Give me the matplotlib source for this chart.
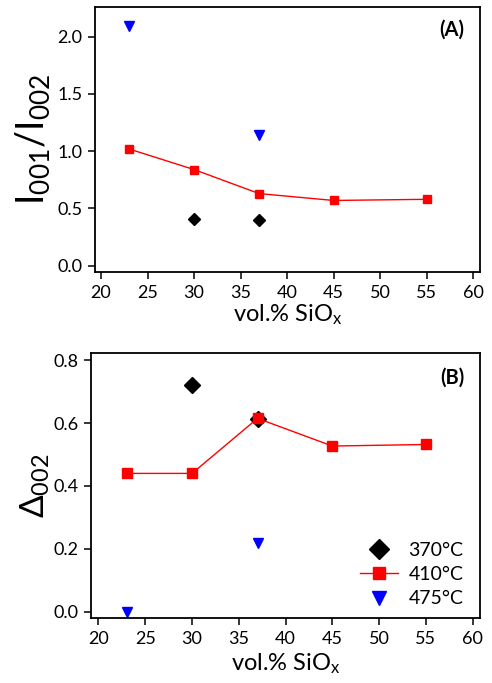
import matplotlib
matplotlib.use("Agg")
import matplotlib.pyplot as plt

plt.rcParams['font.family'] = ['Lato', 'DejaVu Sans']
plt.rcParams['mathtext.fontset'] = 'custom'
plt.rcParams['mathtext.rm'] = 'Lato'
plt.rcParams['mathtext.it'] = 'Lato'

# panel A: I001/I002
x_370_a = [30, 37]
y_370_a = [0.41, 0.40]
x_410_a = [23, 30, 37, 45, 55]
y_410_a = [1.02, 0.84, 0.63, 0.57, 0.58]
x_475_a = [23, 37]
y_475_a = [2.09, 1.14]

# panel B: Delta002
x_370_b = [30, 37]
y_370_b = [0.72, 0.613]
x_410_b = [23, 30, 37, 45, 55]
y_410_b = [0.44, 0.44, 0.615, 0.527, 0.532]
x_475_b = [23, 37]
y_475_b = [0.0, 0.22]

labels = ['370°C', '410°C', '475°C']
xticks = [20, 25, 30, 35, 40, 45, 50, 55, 60]

fig = plt.figure(figsize=(4.92, 6.83), dpi=100)
W, H = 492, 683
ax1 = fig.add_axes([95 / W, 1 - 272 / H, 385 / W, 265 / H])
ax2 = fig.add_axes([91 / W, 1 - 618 / H, 389 / W, 265 / H])


def style(ax, lpad):
    for s in ax.spines.values():
        s.set_linewidth(1.3)
    ax.tick_params(direction='out', length=5, width=1.1, labelsize=13,
                   top=False, right=False, pad=4)
    ax.set_xticks(xticks)
    ax.set_xlabel('vol.% SiO$_\\mathregular{x}$', fontsize=17, labelpad=lpad)


def draw(ax, d370, d410, d475, ms, dms):
    ax.plot(*d370, linestyle='none', marker='D', color='black', markersize=dms,
            label=labels[0])
    ax.plot(*d410, linestyle='-', linewidth=1, marker='s', color='#ff0000',
            markersize=ms, label=labels[1])
    ax.plot(*d475, linestyle='none', marker='v', color='#0000ff', markersize=ms + 0.6,
            label=labels[2])


draw(ax1, (x_370_a, y_370_a), (x_410_a, y_410_a), (x_475_a, y_475_a), 6.2, 6.6)
style(ax1, 1.5)
ax1.set_xlim(19.35, 60.75)
ax1.set_ylim(-0.055, 2.26)
ax1.set_yticks([0.0, 0.5, 1.0, 1.5, 2.0])
ax1.set_yticklabels(['0.0', '0.5', '1.0', '1.5', '2.0'])
ax1.set_ylabel('$\\mathregular{I_{001}/I_{002}}$', fontsize=27, labelpad=4)
ax1.text(0.96, 0.913, '(A)', transform=ax1.transAxes, ha='right', va='center',
         fontsize=14.5, fontweight='bold')

draw(ax2, (x_370_b, y_370_b), (x_410_b, y_410_b), (x_475_b, y_475_b), 6.8, 7.8)
style(ax2, 3.5)
ax2.set_xlim(19.2, 60.78)
ax2.set_ylim(-0.02, 0.823)
ax2.set_yticks([0.0, 0.2, 0.4, 0.6, 0.8])
ax2.set_yticklabels(['0.0', '0.2', '0.4', '0.6', '0.8'])
ax2.set_ylabel('$\\mathregular{\\Delta_{002}}$', fontsize=24, labelpad=1)
ax2.text(0.96, 0.906, '(B)', transform=ax2.transAxes, ha='right', va='center',
         fontsize=14.5, fontweight='bold')
ax2.legend(loc='lower right', bbox_to_anchor=(0.985, 0.0), frameon=False,
           fontsize=14, markerscale=1.3, handlelength=1.95, handletextpad=0.55,
           labelspacing=0.38, borderaxespad=0.15)

fig.savefig('out.png', dpi=100)
